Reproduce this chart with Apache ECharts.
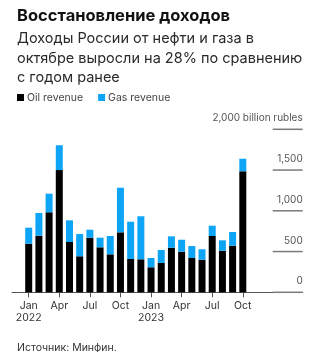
<!DOCTYPE html>
<html>
<head>
<meta charset="utf-8">
<script src="https://cdn.jsdelivr.net/npm/echarts@6/dist/echarts.min.js"></script>
<style>
  html, body { margin: 0; padding: 0; background: #fff; }
  #chart { width: 325px; height: 352px; }
</style>
</head>
<body>
<div id="chart"></div>
<script>
// Monthly oil & gas budget revenue, billion rubles (Jan 2022 – Oct 2023)
const months = [
  'Jan\n2022', 'Feb', 'Mar', 'Apr', 'May', 'Jun', 'Jul', 'Aug', 'Sep', 'Oct', 'Nov', 'Dec',
  'Jan\n2023', 'Feb', 'Mar', 'Apr', 'May', 'Jun', 'Jul', 'Aug', 'Sep', 'Oct'
];
const oilRevenue = [596, 694, 982, 1500, 617, 442, 670, 552, 466, 736, 409, 405,
                    307, 360, 547, 498, 421, 400, 691, 510, 572, 1485];
const gasRevenue = [197, 279, 228, 304, 266, 273, 98, 118, 225, 547, 457, 528,
                    114, 159, 140, 147, 147, 128, 126, 128, 168, 154];
const yTicks = [0, 500, 1000, 1500, 2000];

const FONT = 'Inter, "Noto Sans", sans-serif';
const chart = echarts.init(document.getElementById('chart'), null, { renderer: 'canvas' });

const plotTop = 129.3, plotBottom = 352 - 292.3;
const ruleLeft = 272.7, ruleRight = 302.7;
const yMin = yTicks[0], yMax = yTicks[yTicks.length - 1], yStep = yTicks[1] - yTicks[0];

chart.setOption({
  animation: false,
  backgroundColor: '#fff',
  title: [
    {
      text: 'Восстановление доходов',
      left: 12, top: 2,
      textStyle: { fontFamily: FONT, fontSize: 16.5, fontWeight: 'bold', color: '#111', lineHeight: 18 }
    },
    {
      text: 'Доходы России от нефти и газа в\nоктябре выросли на 28% по сравнению\nс годом ранее',
      left: 12, top: 24,
      textStyle: { fontFamily: FONT, fontSize: 14.5, fontWeight: 'normal', color: '#2a2a2a', lineHeight: 19.5 }
    },
    {
      text: 'Источник: Минфин.',
      left: 12, top: 337,
      textStyle: { fontFamily: FONT, fontSize: 10.5, fontWeight: 'normal', color: '#333', lineHeight: 12 }
    }
  ],
  legend: {
    left: 12, top: 87,
    itemWidth: 7, itemHeight: 7, itemGap: 15,
    icon: 'rect',
    textStyle: { fontFamily: FONT, fontSize: 10.5, color: '#444', padding: [0, 0, 0, -2] },
    data: ['Oil revenue', 'Gas revenue']
  },
  grid: [
    // bars
    { left: 23.6, right: 325 - 247.9, top: plotTop, bottom: plotBottom },
    // full-width zero line
    { left: 12, right: 325 - ruleRight, top: plotTop, bottom: plotBottom },
    // short value rules with labels on the right
    { left: ruleLeft, right: 325 - ruleRight, top: plotTop, bottom: plotBottom }
  ],
  xAxis: [
    {
      type: 'category', gridIndex: 0, data: months,
      axisLine: { show: false },
      axisTick: { show: true, interval: 2, alignWithLabel: true, length: 5, lineStyle: { color: '#555', width: 1 } },
      axisLabel: {
        interval: 2, margin: 8,
        fontFamily: FONT, fontSize: 10.5, color: '#333', lineHeight: 12
      }
    },
    {
      type: 'value', gridIndex: 1, min: 0, max: 1,
      axisLine: { show: true, onZero: false, lineStyle: { color: '#555', width: 1 } },
      axisTick: { show: false }, axisLabel: { show: false }, splitLine: { show: false }
    },
    {
      type: 'value', gridIndex: 2, min: 0, max: 1, show: false
    }
  ],
  yAxis: [
    {
      type: 'value', gridIndex: 0, min: yMin, max: yMax, interval: yStep, show: false
    },
    {
      type: 'value', gridIndex: 1, min: 0, max: 1, show: false
    },
    {
      type: 'value', gridIndex: 2, position: 'right',
      min: yMin, max: yMax, interval: yStep,
      axisLine: { show: false },
      axisTick: { show: false },
      splitLine: { show: false },
      axisLabel: {
        inside: true, margin: 0, align: 'right', verticalAlign: 'bottom',
        padding: [0, 0, 6, 0],
        fontFamily: FONT, fontSize: 10, color: '#555',
        formatter: v => v === yMax ? v.toLocaleString('en-US') + ' billion rubles' : v.toLocaleString('en-US')
      }
    }
  ],
  series: [
    {
      name: 'Oil revenue', type: 'bar', stack: 'total',
      xAxisIndex: 0, yAxisIndex: 0, barWidth: 7,
      itemStyle: { color: '#000' },
      data: oilRevenue
    },
    {
      name: 'Gas revenue', type: 'bar', stack: 'total',
      xAxisIndex: 0, yAxisIndex: 0, barWidth: 7,
      itemStyle: { color: '#0ea5f7' },
      data: gasRevenue
    },
    {
      // short horizontal rule under each value label
      name: 'rules', type: 'custom', xAxisIndex: 2, yAxisIndex: 2,
      silent: true, clip: false, z: 10,
      data: yTicks.map(v => [0, v]),
      renderItem: (params, api) => {
        const v = api.value(1);
        const a = api.coord([0, v]);
        const b = api.coord([1, v]);
        return {
          type: 'line',
          shape: { x1: a[0], y1: a[1], x2: b[0], y2: b[1] },
          style: { stroke: '#7a7a7a', lineWidth: 1.5 }
        };
      }
    }
  ]
});
</script>
</body>
</html>
